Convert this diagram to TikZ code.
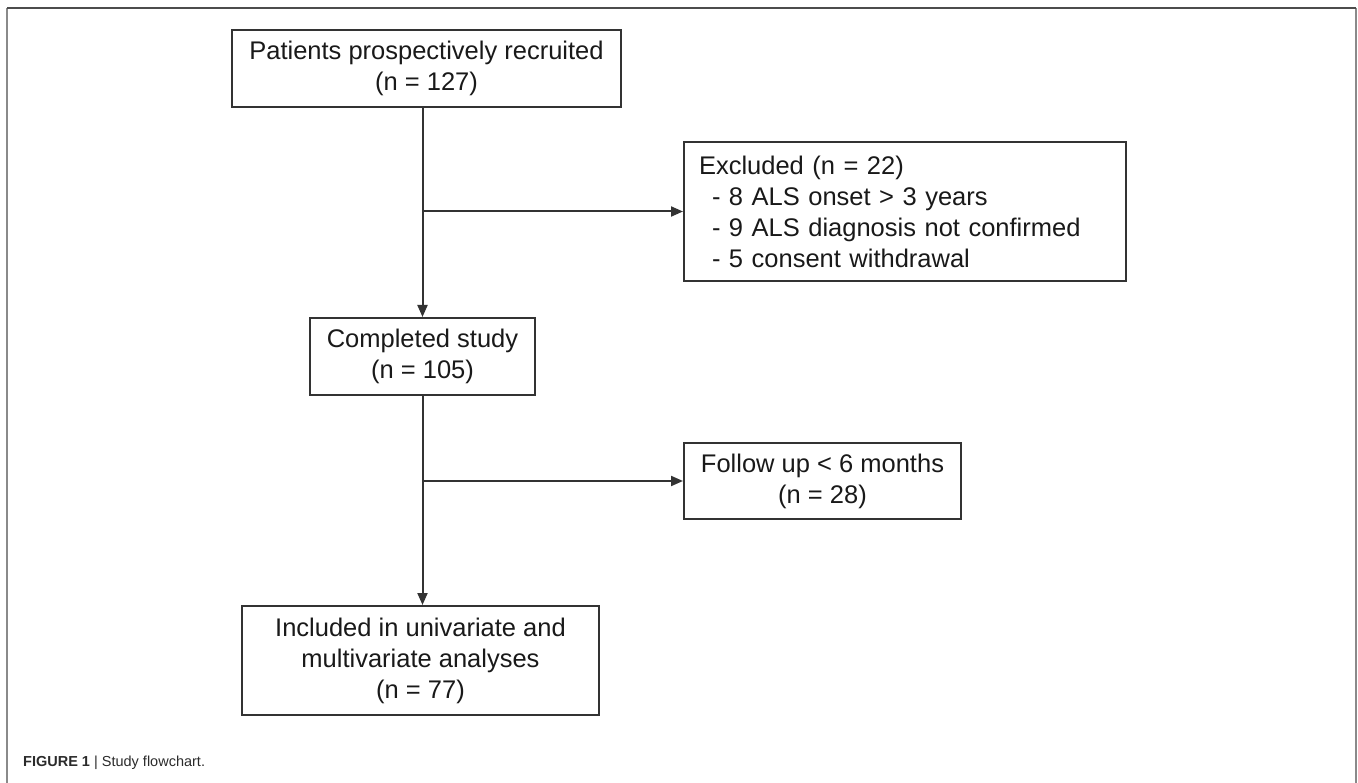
\documentclass[tikz,border=0pt]{standalone}
\usepackage{fontspec}
\setmainfont{Liberation Sans}
\usetikzlibrary{arrows.meta, positioning, calc}

\definecolor{linegray}{HTML}{333333}
\definecolor{framegray}{HTML}{8A8A8A}
\definecolor{captiongray}{HTML}{2B2B2B}

\tikzset{
    flowbox/.style={draw=linegray, line width=2pt, inner sep=0pt, align=center,
        font=\fontsize{25.5}{31}\selectfont, text=black!90},
    flowarrow/.style={draw=linegray, line width=2pt, -{Triangle[length=12pt,width=10pt]}},
    flowline/.style={draw=linegray, line width=2pt}
}

\begin{document}
\begin{tikzpicture}[x=1pt, y=-1pt]
    \useasboundingbox (0,0) rectangle (1358,783);
    \draw[framegray, line width=1.5pt] (7,783) -- (7,8);
    \draw[framegray, line width=2.5pt] (1356,8) -- (1356,783);
    \draw[black!70, line width=1.5pt] (7,8) -- (1356,8);

    \node[flowbox, minimum width=389pt, minimum height=77pt] (recruited) at (426.5,68.5)
        {Patients prospectively recruited\\(n = 127)};
    \node[flowbox, align=left, text width=412pt, inner xsep=15pt, minimum height=139pt] (excluded) at (905,211.5)
        {Excluded (n = 22)\\
        \hspace*{13pt}- 8 ALS onset > 3 years\\
        \hspace*{13pt}- 9 ALS diagnosis not confirmed\\
        \hspace*{13pt}- 5 consent withdrawal};
    \node[flowbox, minimum width=225pt, minimum height=77pt] (completed) at (422.5,356.5)
        {Completed study\\(n = 105)};
    \node[flowbox, minimum width=277pt, minimum height=76pt] (followup) at (822.5,481)
        {Follow up < 6 months\\(n = 28)};
    \node[flowbox, minimum width=357pt, minimum height=109pt] (included) at (420.5,660.5)
        {Included in univariate and\\multivariate analyses\\(n = 77)};

    \coordinate (split1) at (excluded.west -| completed.north);
    \coordinate (split2) at (followup.west -| completed.south);

    \draw[flowarrow] (recruited.south -| completed.north) -- (completed.north);
    \draw[flowarrow] (split1) -- (excluded.west);
    \draw[flowarrow] (completed.south) -- (included.north -| completed.south);
    \draw[flowarrow] (split2) -- (followup.west);

    \node[anchor=base west, inner sep=0pt, text=captiongray, font=\fontsize{14.5}{17}\selectfont] (caption) at (23,766)
        {\textbf{FIGURE 1} | Study flowchart.};
\end{tikzpicture}
\end{document}
